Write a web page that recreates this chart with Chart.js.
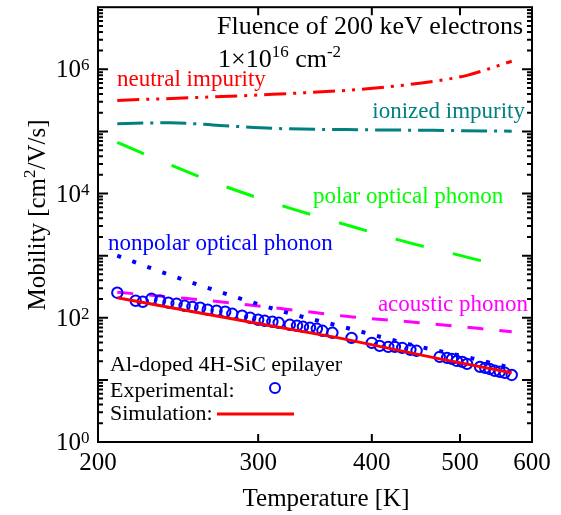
<!DOCTYPE html>
<html>
<head>
<meta charset="utf-8">
<script src="https://cdn.jsdelivr.net/npm/chart.js@4.4.0/dist/chart.umd.min.js"></script>
<style>
  html, body { margin: 0; padding: 0; background: #fff; }
  #wrap { width: 561px; height: 515px; }
</style>
</head>
<body>
<div id="wrap"><canvas id="mobility" width="561" height="515"></canvas></div>
<script>
// Axis ticks
const xTicks = [200, 300, 400, 500, 600];
const yLabelExps = [0, 2, 4, 6];

// Scattering-limited hole mobility components [cm2/V/s] vs temperature [K]
const neutralT = [210, 259, 311, 401, 467, 509, 570];
const neutralMu = [3.16e5, 3.53e5, 3.95e5, 4.94e5, 6.4e5, 8.0e5, 1.35e6];

const ionizedT = [210, 240, 272, 312, 400, 467, 570];
const ionizedMu = [1.33e5, 1.38e5, 1.25e5, 1.12e5, 1.06e5, 1.04e5, 1.01e5];

const polarT = [210, 241, 278, 321, 371, 427, 496, 533];
const polarMu = [6.65e4, 2.83e4, 1.25e4, 6170, 3280, 1811, 1038, 800];

const nonpolarT = [210, 236, 274, 320, 375, 438, 513, 570];
const nonpolarMu = [1000, 532, 253, 125, 69, 38, 22.6, 15.6];

const acousticT = [210, 249, 289, 334, 381, 448, 526, 570];
const acousticMu = [258, 206, 165, 129, 103, 84, 67, 59.4];

// Al-doped 4H-SiC epilayer: fit and Hall data
const simT = [210, 259, 301, 369, 475, 570];
const simMu = [210, 119, 80, 47, 21.8, 13.0];

const expT = [210, 220, 224, 229, 234, 239, 244, 249, 254, 259, 264, 270, 276, 281, 288, 294,
  300, 305, 311, 316, 325, 331, 336, 342, 348, 353, 362, 380, 400, 408, 417, 424, 432, 441,
  448, 475, 484, 490, 496, 503, 509, 526, 533, 539, 546, 553, 560, 570];
const expMu = [253, 188, 181, 202, 188, 175, 168, 156, 150, 145, 135, 130, 125, 116, 108, 100,
  92.9, 89.5, 86.2, 83.0, 77.1, 74.3, 71.6, 69.0, 66.5, 61.7, 57.3, 47.5, 39.5, 35.3, 34.0, 34.0,
  32.8, 30.5, 29.4, 23.5, 22.6, 21.8, 20.2, 19.5, 18.1, 16.2, 15.6, 15.0, 14.0, 13.5, 13.0, 12.0];

const SERIF = '"Liberation Serif", "Times New Roman", serif';
const RED = '#ff0000', TEAL = '#008080', GREEN = '#00ff00', BLUE = '#0000ff', MAGENTA = '#ff00ff';

function toPoints(xs, ys) {
  return xs.map((t, i) => ({ x: t, y: ys[i] }));
}

function curve(label, xs, ys, color, dash, width) {
  return {
    label: label,
    data: toPoints(xs, ys),
    borderColor: color,
    borderWidth: width || 3,
    borderDash: dash,
    pointRadius: 0,
    fill: false,
    cubicInterpolationMode: 'monotone'
  };
}

// text with one raised part, returns advance width
function supText(ctx, x, y, base, sup, size, supSize, rise) {
  ctx.font = size + 'px ' + SERIF;
  ctx.fillText(base, x, y);
  const w = ctx.measureText(base).width;
  ctx.font = supSize + 'px ' + SERIF;
  ctx.fillText(sup, x + w, y - rise);
  return w + ctx.measureText(sup).width;
}

// frame, inward ticks, labels and annotations
const decorations = {
  id: 'decorations',
  afterDatasetsDraw(chart) {
    const { ctx, chartArea: a, scales: { x, y } } = chart;
    ctx.save();

    ctx.strokeStyle = '#000';
    ctx.lineWidth = 2;
    ctx.beginPath();
    for (let d = 0; d < 7; d++) {
      for (let m = 1; m <= 9; m++) {
        const py = y.getPixelForValue(m * Math.pow(10, d));
        if (d === 0 && m === 1) continue;
        const len = m === 1 ? 10 : 5;
        ctx.moveTo(a.left, py); ctx.lineTo(a.left + len, py);
        ctx.moveTo(a.right, py); ctx.lineTo(a.right - len, py);
      }
    }
    xTicks.slice(1, -1).forEach(v => {
      const px = x.getPixelForValue(v);
      ctx.moveTo(px, a.bottom); ctx.lineTo(px, a.bottom - 8);
      ctx.moveTo(px, a.top); ctx.lineTo(px, a.top + 8);
    });
    ctx.stroke();
    ctx.strokeRect(a.left, a.top, a.right - a.left, a.bottom - a.top);

    ctx.fillStyle = '#000';
    ctx.textBaseline = 'alphabetic';

    // y tick labels 10^n
    yLabelExps.forEach(e => {
      const py = y.getPixelForValue(Math.pow(10, e));
      ctx.font = '25px ' + SERIF;
      ctx.textAlign = 'right';
      ctx.fillText('10', 81, py + 8);
      ctx.textAlign = 'left';
      ctx.font = '17px ' + SERIF;
      ctx.fillText(String(e), 81, py + 1);
    });

    // axis titles
    ctx.textAlign = 'left';
    ctx.font = '25px ' + SERIF;
    const xTitle = 'Temperature [K]';
    ctx.fillText(xTitle, 326 - ctx.measureText(xTitle).width / 2, 506);

    ctx.save();
    ctx.translate(45, 215);
    ctx.rotate(-Math.PI / 2);
    ctx.font = '25px ' + SERIF;
    const w1 = ctx.measureText('Mobility [cm').width;
    const w3 = ctx.measureText('/V/s]').width;
    ctx.font = '17px ' + SERIF;
    const w2 = ctx.measureText('2').width;
    let tx = -(w1 + w2 + w3) / 2;
    tx += supText(ctx, tx, 0, 'Mobility [cm', '2', 25, 17, 10);
    ctx.font = '25px ' + SERIF;
    ctx.fillText('/V/s]', tx, 0);
    ctx.restore();

    // fluence note
    ctx.font = '26px ' + SERIF;
    ctx.fillText('Fluence of 200 keV electrons', a.left + 119, a.top + 27);
    let nx = a.left + 120;
    nx += supText(ctx, nx, a.top + 60, '1\u00d710', '16', 26, 17, 10);
    supText(ctx, nx, a.top + 60, ' cm', '-2', 26, 17, 10);

    // curve labels
    ctx.font = '23px ' + SERIF;
    ctx.fillStyle = RED;
    ctx.fillText('neutral impurity', 117, 86);
    ctx.fillStyle = TEAL;
    ctx.textAlign = 'right';
    ctx.fillText('ionized impurity', 525, 118);
    ctx.textAlign = 'left';
    ctx.fillStyle = GREEN;
    ctx.fillText('polar optical phonon', 313, 203);
    ctx.fillStyle = BLUE;
    ctx.fillText('nonpolar optical phonon', 108, 250);
    ctx.fillStyle = MAGENTA;
    ctx.textAlign = 'right';
    ctx.fillText('acoustic phonon', 528, 311);

    // sample key
    ctx.textAlign = 'left';
    ctx.fillStyle = '#000';
    ctx.font = '22px ' + SERIF;
    ctx.fillText('Al-doped 4H-SiC epilayer', 110, 371);
    ctx.fillText('Experimental:', 110, 397);
    ctx.fillText('Simulation:', 110, 420);
    ctx.strokeStyle = BLUE;
    ctx.lineWidth = 2;
    ctx.beginPath();
    ctx.arc(275, 388, 5, 0, Math.PI * 2);
    ctx.stroke();
    ctx.strokeStyle = RED;
    ctx.lineWidth = 3;
    ctx.beginPath();
    ctx.moveTo(217, 414);
    ctx.lineTo(294, 414);
    ctx.stroke();

    ctx.restore();
  }
};

new Chart(document.getElementById('mobility'), {
  type: 'line',
  data: {
    datasets: [
      {
        label: 'Simulation',
        data: toPoints(simT, simMu),
        borderColor: RED,
        borderWidth: 3,
        pointRadius: 0,
        fill: false
      },
      {
        label: 'Experimental',
        data: toPoints(expT, expMu),
        showLine: false,
        pointStyle: 'circle',
        pointRadius: 5.2,
        pointBorderWidth: 2,
        pointBorderColor: BLUE,
        pointBackgroundColor: 'rgba(0,0,0,0)'
      },
      curve('nonpolar optical phonon', nonpolarT, nonpolarMu, BLUE, [4, 12], 4),
      curve('acoustic phonon', acousticT, acousticMu, MAGENTA, [16, 16]),
      curve('polar optical phonon', polarT, polarMu, GREEN, [29, 30]),
      curve('ionized impurity', ionizedT, ionizedMu, TEAL, [26, 7, 3, 7]),
      curve('neutral impurity', neutralT, neutralMu, RED, [22, 7, 3, 7, 3, 7])
    ]
  },
  options: {
    responsive: false,
    animation: false,
    devicePixelRatio: 1,
    layout: { padding: { top: 6, right: 29, left: 0, bottom: 0 } },
    plugins: { legend: { display: false }, tooltip: { enabled: false } },
    scales: {
      x: {
        type: 'logarithmic',
        position: 'bottom',
        min: 200,
        max: 600,
        afterBuildTicks: s => { s.ticks = xTicks.map(v => ({ value: v })); },
        afterFit: s => { s.height = 73; },
        ticks: {
          autoSkip: false,
          maxRotation: 0,
          padding: 6,
          color: '#000',
          font: { family: SERIF, size: 25 },
          callback: v => String(v)
        },
        grid: { display: false, drawTicks: false },
        border: { display: false }
      },
      y: {
        type: 'logarithmic',
        min: 1,
        max: 1e7,
        afterFit: s => { s.width = 98; },
        ticks: { display: false },
        grid: { display: false, drawTicks: false },
        border: { display: false }
      }
    }
  },
  plugins: [decorations]
});
</script>
</body>
</html>
